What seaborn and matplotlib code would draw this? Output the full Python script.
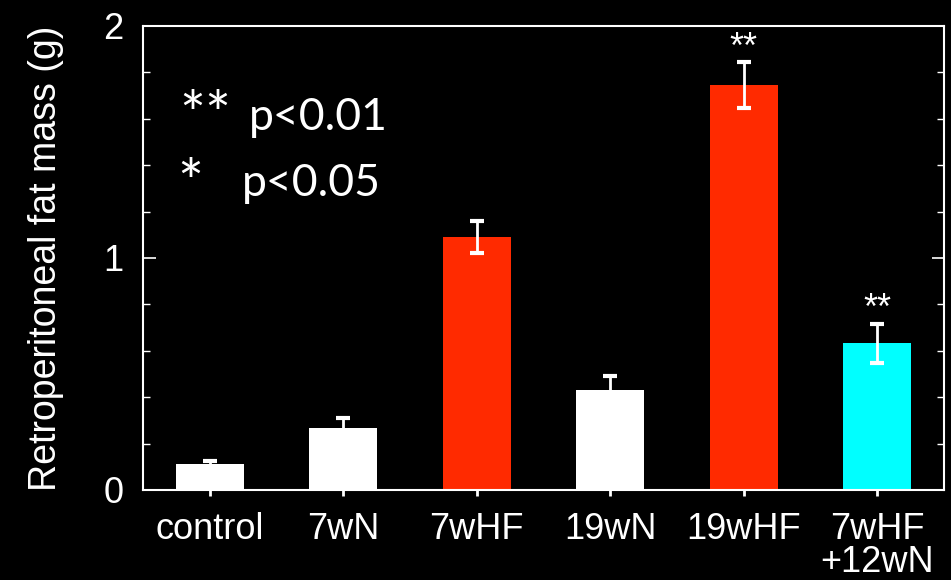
import numpy as np
import pandas as pd
import seaborn as sns
import matplotlib.pyplot as plt
from matplotlib.ticker import MultipleLocator

# 後腹膜脂肪量 (g)
groups = ['control', '7wN', '7wHF', '19wN', '19wHF', '7wHF\n+12wN']
fat_mass = [0.112, 0.267, 1.09, 0.43, 1.745, 0.632]
fat_err = [0.012, 0.043, 0.07, 0.06, 0.098, 0.084]
bar_colors = ['#ffffff', '#ffffff', '#ff2a00', '#ffffff', '#ff2a00', '#00ffff']
signif = ['', '', '', '', '**', '**']

df = pd.DataFrame({'group': groups, 'mass': fat_mass})

sns.set_style('ticks')
plt.rcParams['font.family'] = ['Liberation Sans', 'DejaVu Sans']

fig = plt.figure(figsize=(9.51, 5.8), dpi=100, facecolor='black')
ax = fig.add_axes([0.1504, 0.1552, 0.8422, 0.80])
ax.set_facecolor('black')

sns.barplot(data=df, x='group', y='mass', hue='group', palette=bar_colors,
            width=0.51, saturation=1, legend=False, errorbar=None, linewidth=0, ax=ax)
ax.errorbar(np.arange(len(groups)), fat_mass, yerr=fat_err, fmt='none',
            ecolor='white', elinewidth=2, capsize=5, capthick=3, zorder=5)

for i, (v, e, s) in enumerate(zip(fat_mass, fat_err, signif)):
    if s:
        ax.text(i, v + e + 0.06, s, color='white', ha='center', va='center', fontsize=26)

ax.text(0.045, 0.80, '**', transform=ax.transAxes, color='white', fontsize=44,
        family='Lato', va='center')
ax.text(0.132, 0.803, 'p<0.01', transform=ax.transAxes, color='white', fontsize=32,
        family='Lato', va='center')
ax.text(0.043, 0.655, '*', transform=ax.transAxes, color='white', fontsize=44,
        family='Lato', va='center')
ax.text(0.123, 0.66, 'p<0.05', transform=ax.transAxes, color='white', fontsize=32,
        family='Lato', va='center')

ax.set_xlim(-0.5, 5.5)
ax.set_ylim(0, 2)
ax.yaxis.set_major_locator(MultipleLocator(1))
ax.yaxis.set_minor_locator(MultipleLocator(0.2))
ax.set_xlabel('')
ax.set_ylabel('Retroperitoneal fat mass (g)', color='white', fontsize=27, labelpad=28)

for sp in ax.spines.values():
    sp.set_color('white')
    sp.set_linewidth(1.5)
ax.tick_params(axis='y', which='both', direction='in', colors='white', left=True, right=True,
               labelsize=26, pad=14)
ax.tick_params(axis='y', which='major', length=9, width=1.2)
ax.tick_params(axis='y', which='minor', length=5, width=1)
ax.tick_params(axis='x', direction='inout', colors='white', length=8, width=2,
               labelsize=26, pad=12)
for lbl in ax.get_xticklabels():
    lbl.set_linespacing(0.92)

fig.savefig('out.png', dpi=100, facecolor='black')
